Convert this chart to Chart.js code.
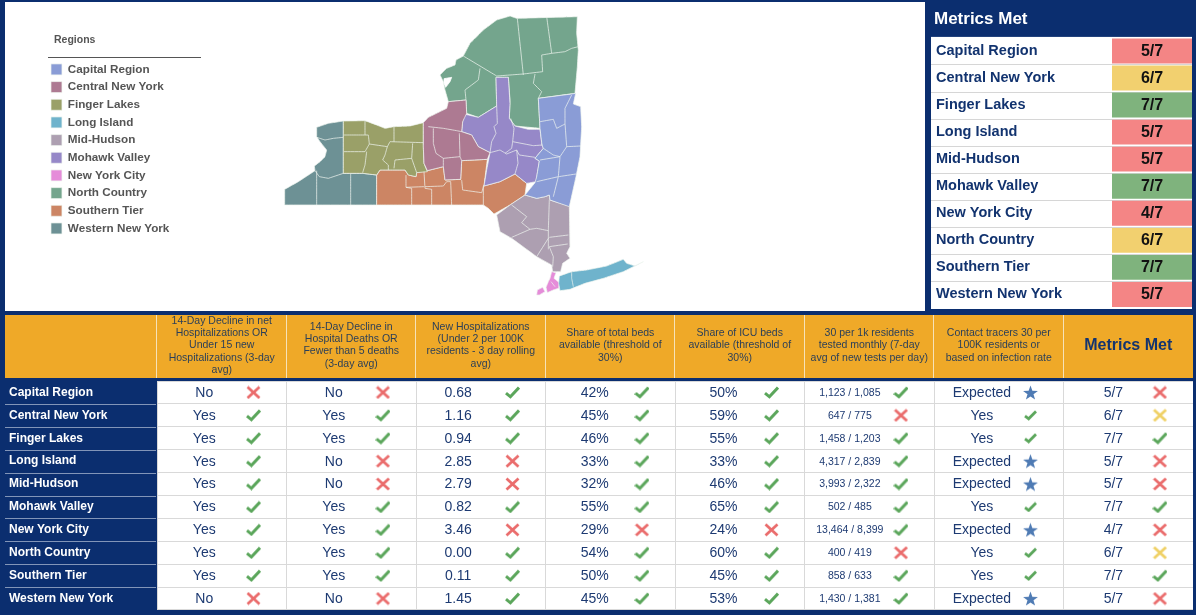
<!DOCTYPE html>
<html><head><meta charset="utf-8">
<script src="https://cdn.jsdelivr.net/npm/chart.js@4/dist/chart.umd.min.js"></script>
<style>
html,body{margin:0;padding:0;background:#fff;overflow:hidden}
#frame{position:absolute;left:0;top:0;width:1196px;height:615px;background:#0b2e6f}
#mapPanel{position:absolute;left:5px;top:2px;width:920px;height:309px;background:#fff}
canvas{position:absolute}
#mapChart{left:45px;top:2px}
#metChart{left:927px;top:3px}
#tableChart{left:5px;top:312px}
</style></head><body>
<div id="frame"></div><div id="mapPanel"></div>
<canvas id="mapChart" width="880" height="309"></canvas>
<canvas id="metChart" width="269" height="306"></canvas>
<canvas id="tableChart" width="1188" height="298"></canvas>
<script>
const FONT='"Liberation Sans", Arial, sans-serif';
const regions=['Capital Region','Central New York','Finger Lakes','Long Island','Mid-Hudson','Mohawk Valley','New York City','North Country','Southern Tier','Western New York'];
const regionColors=['#8a9cd6','#ad7a92','#9aa068','#6fb3cc','#ad9fb1','#9688c8','#e58cd9','#74a58d','#cc8564','#6d9195'];
const metricsMet=[5,6,7,5,5,7,4,6,7,5];
const headers=[
 ['14-Day Decline in net','Hospitalizations OR','Under 15 new','Hospitalizations (3-day','avg)'],
 ['14-Day Decline in','Hospital Deaths OR','Fewer than 5 deaths','(3-day avg)'],
 ['New Hospitalizations','(Under 2 per 100K','residents - 3 day rolling','avg)'],
 ['Share of total beds','available (threshold of','30%)'],
 ['Share of ICU beds','available (threshold of','30%)'],
 ['30 per 1k residents','tested monthly (7-day','avg of new tests per day)'],
 ['Contact tracers 30 per','100K residents or','based on infection rate'],
 'Metrics Met'];
const declineHosp=['No','Yes','Yes','Yes','Yes','Yes','Yes','Yes','Yes','No'];
const declineDeaths=['No','Yes','Yes','No','No','Yes','Yes','Yes','Yes','No'];
const newHosp=['0.68','1.16','0.94','2.85','2.79','0.82','3.46','0.00','0.11','1.45'];
const totalBeds=['42%','45%','46%','33%','32%','55%','29%','54%','50%','45%'];
const icuBeds=['50%','59%','55%','33%','46%','65%','24%','60%','45%','53%'];
const tests=['1,123 / 1,085','647 / 775','1,458 / 1,203','4,317 / 2,839','3,993 / 2,322','502 / 485','13,464 / 8,399','400 / 419','858 / 633','1,430 / 1,381'];
const tracers=['Expected','Yes','Yes','Expected','Expected','Yes','Expected','Yes','Yes','Expected'];
const markDecline=['no','ok','ok','ok','ok','ok','ok','ok','ok','no'];
const markDeaths=['no','ok','ok','no','no','ok','ok','ok','ok','no'];
const markNewHosp=['ok','ok','ok','no','no','ok','no','ok','ok','ok'];
const markBeds=['ok','ok','ok','ok','ok','ok','no','ok','ok','ok'];
const markIcu=['ok','ok','ok','ok','ok','ok','no','ok','ok','ok'];
const markTests=['ok','no','ok','ok','ok','ok','ok','no','ok','ok'];
const markTracers=['star','small','small','star','star','small','star','small','small','star'];
const markMet=['no','warn','ok','no','no','ok','no','warn','ok','no'];
const textShift=[-0.135,-0.135,-0.175,-0.12,-0.125,-0.15,-0.13,-0.115];

// map outlines, in map units
const capitalShape=[[805,295],[905,282],[917,280],[910,312],[932,320],[935,380],[930,470],[918,530],[898,620],[840,600],[838,585],[825,590],[800,595],[765,585],[795,548],[800,530],[808,483],[795,475],[820,445],[816,435],[810,385],[805,295]];
const centralShape=[[460,368],[475,352],[530,325],[535,305],[588,300],[590,340],[578,365],[575,395],[605,405],[625,440],[660,458],[652,478],[575,482],[572,538],[525,540],[520,500],[472,512],[462,490],[460,440],[460,368]];
const fingerShape=[[220,363],[285,362],[320,375],[345,385],[372,380],[420,378],[460,368],[460,440],[462,490],[472,515],[440,518],[438,530],[415,525],[405,510],[330,510],[320,525],[278,520],[220,520],[220,363]];
const longIslandShape=[[868,828],[905,815],[950,810],[1010,798],[1060,778],[1070,790],[1095,798],[1120,785],[1060,815],[1000,835],[945,850],[900,868],[870,872],[866,850],[868,828]];
const midHudsonShape=[[680,645],[720,615],[765,585],[800,595],[825,590],[838,585],[840,600],[898,618],[900,740],[890,760],[900,775],[878,790],[872,815],[848,815],[845,795],[800,770],[725,715],[690,695],[680,645]];
const mohawkShape=[[678,232],[715,232],[720,310],[718,355],[735,378],[775,388],[810,388],[816,435],[820,445],[795,475],[808,483],[798,545],[770,550],[735,522],[690,545],[642,558],[650,510],[660,458],[625,440],[605,405],[575,395],[578,365],[582,342],[625,352],[680,318],[678,232]];
const nycShapeA=[[800,885],[802,870],[818,862],[825,875],[808,885],[800,885]];
const nycShapeB=[[845,815],[858,818],[852,835],[868,848],[866,865],[850,870],[832,878],[828,862],[835,845],[840,835],[845,815]];
const northShape=[[510,225],[530,205],[555,195],[558,180],[580,168],[600,130],[640,90],[680,60],[720,48],[740,55],[922,50],[920,100],[925,150],[922,200],[915,280],[805,295],[810,385],[735,378],[718,355],[720,300],[715,232],[678,232],[680,318],[625,352],[590,340],[588,300],[535,305],[525,270],[520,245],[510,225]];
const southernShape=[[320,615],[320,525],[330,510],[405,510],[415,525],[438,530],[440,518],[472,512],[520,500],[525,540],[572,538],[575,482],[652,478],[642,558],[690,545],[735,522],[770,550],[765,585],[720,615],[672,642],[655,625],[640,615],[320,615]];
const westernShape=[[140,382],[175,370],[220,363],[220,520],[278,520],[320,525],[320,615],[44,615],[44,568],[85,545],[135,512],[133,498],[150,485],[165,470],[170,450],[150,425],[140,410],[140,382]];
const bayShape=[[522,236],[545,232],[540,245],[527,262],[522,250],[522,236]];
const regionShapes=[[capitalShape],[centralShape],[fingerShape],[longIslandShape],[midHudsonShape],[mohawkShape],[nycShapeA,nycShapeB],[northShape],[southernShape],[westernShape]];

// county borders, in map units
const countyLines=[
 [[140,412],[165,420],[190,415],[220,412]],[[135,512],[148,530],[175,535],[220,520]],[[140,512],[140,615]],[[242,522],[242,615]],
 [[222,405],[295,405]],[[285,362],[285,405]],[[295,405],[298,432],[285,455],[222,455]],[[290,455],[285,495],[278,518]],[[298,432],[352,440]],
 [[352,440],[345,465],[338,480],[355,495],[355,510]],[[372,380],[372,425]],[[352,440],[360,425],[460,428]],[[428,430],[425,475],[440,518]],[[372,505],[375,480],[425,475]],
 [[475,380],[520,385],[560,392],[575,395]],[[490,385],[490,430],[498,460],[520,475],[520,500]],[[520,475],[570,470],[575,482]],[[568,400],[570,470]],
 [[680,318],[682,370],[672,380],[678,400],[665,425],[660,458]],[[722,355],[732,385],[728,425],[725,445],[705,460]],[[660,458],[690,450],[710,462],[740,450],[748,465],[795,472]],[[728,425],[790,437],[818,435]],[[740,450],[744,490],[735,522]],
 [[742,55],[760,225]],[[830,50],[845,160]],[[845,160],[885,155],[905,145],[925,140]],[[815,165],[845,160]],[[815,165],[818,215]],[[580,168],[680,228],[760,222],[818,215]],[[630,205],[625,240],[585,270],[588,300]],[[795,222],[790,250],[815,275],[805,295]],
 [[905,285],[885,325],[885,370],[890,440],[870,470],[865,530],[850,590]],[[810,365],[850,358],[860,385],[885,372]],[[890,440],[932,438]],[[866,530],[918,522]],[[870,470],[810,480]],[[800,545],[865,530]],[[820,445],[850,465],[870,470]],
 [[408,525],[408,562],[425,565],[425,615]],[[408,562],[462,560]],[[462,515],[465,565],[485,568],[485,615]],[[465,560],[520,558],[530,545],[542,545],[545,615]],[[575,540],[578,570],[635,578],[642,555]],[[640,558],[640,615]],
 [[838,600],[835,690],[835,748]],[[838,712],[895,705]],[[838,740],[893,732]],[[725,615],[770,650],[755,668],[780,688],[725,712]],[[780,688],[800,685],[835,692]],[[835,715],[800,770]],
 [[905,815],[905,835],[910,860]],[[843,845],[855,860]],
 [[838,740],[850,770],[848,800]]
];

const toPts=a=>a.map(p=>({x:p[0],y:p[1]}));
const PALE='rgba(240,245,240,0.9)';
const lineSets=countyLines.map(l=>({data:toPts(l),showLine:true,borderColor:PALE,borderWidth:0.8,pointRadius:0,fill:false,tension:0.0001}));
lineSets.push({data:toPts(bayShape),showLine:true,borderColor:'#fff',borderWidth:0.8,pointRadius:0,backgroundColor:'#fff',fill:'shape',tension:0.0001});
const shapeSets=[];
regionShapes.forEach((shapes,i)=>shapes.forEach((s,j)=>shapeSets.push({
  label:j===0?regions[i]:'',data:toPts(s),showLine:true,borderColor:PALE,borderWidth:0.8,tension:0.0001,
  backgroundColor:regionColors[i],pointRadius:0,fill:'shape'})));

const legendRule={id:'legendRule',
 afterDraw(c){const x=c.ctx;x.save();x.strokeStyle='#555';x.lineWidth=1;x.beginPath();x.moveTo(3,55.5);x.lineTo(156,55.5);x.stroke();
  x.fillStyle='#555';x.font='bold 10.5px '+FONT;x.textAlign='left';x.textBaseline='middle';x.fillText('Regions',9,38.5);x.restore();}};
new Chart(document.getElementById('mapChart'),{type:'scatter',
 data:{datasets:[...lineSets,...shapeSets]},
 plugins:[legendRule],
 options:{responsive:false,animation:false,
  layout:{padding:0,autoPadding:false},
  scales:{x:{type:'linear',display:false,min:-675,max:1965},y:{type:'linear',display:false,reverse:true,min:6,max:933}},
  plugins:{tooltip:{enabled:false},
   legend:{position:'chartArea',align:'start',
    title:{display:true,text:' ',color:'#555',position:'start',font:{family:FONT,size:10.5,weight:'bold'},padding:{top:34,bottom:9},align:'start'},
    labels:{boxWidth:11,boxHeight:11,padding:5.97,color:'#555',font:{family:FONT,size:11.7,weight:'bold'},filter:i=>!!i.text}}}}});

// top-right panel
const CELL={no:'#f48585',warn:'#f2d06f',ok:'#7fb37d'};
const cellColors=metricsMet.map(v=>v===7?CELL.ok:v===6?CELL.warn:CELL.no);
const metPanel={id:'metPanel',
 afterLayout(c){c.titleBlock.left=7;},
 beforeDraw(c){const x=c.ctx,a=c.chartArea,ys=c.scales.y;x.save();x.fillStyle='#fff';x.fillRect(4,a.top-0.5,a.right-4,a.bottom-a.top+1.5);
  x.strokeStyle='#d6d6d6';x.lineWidth=1;
  regions.forEach((r,i)=>{if(!i)return;const y=Math.round(ys.getPixelForValue(i-0.5))+.5;x.beginPath();x.moveTo(4,y);x.lineTo(a.right,y);x.stroke();});x.restore();},
 afterDatasetsDraw(c){const x=c.ctx,a=c.chartArea,ys=c.scales.y;x.save();x.fillStyle='#111';x.font='bold 16px '+FONT;x.textAlign='center';x.textBaseline='middle';
  metricsMet.forEach((v,i)=>x.fillText(v+'/7',(a.left+a.right)/2,ys.getPixelForValue(i)+.5));x.restore();}};
new Chart(document.getElementById('metChart'),{type:'bar',
 data:{labels:regions,datasets:[{data:metricsMet,backgroundColor:cellColors,barPercentage:0.92,categoryPercentage:1,borderWidth:0}]},
 plugins:[metPanel],
 options:{responsive:false,animation:false,indexAxis:'y',
  layout:{padding:{left:9,right:4,bottom:1},autoPadding:false},
  scales:{x:{display:false,min:0,max:1},
   y:{afterFit(s){s.width=176;s.paddingTop=0;s.paddingBottom=0;},border:{display:false},grid:{display:false},
      ticks:{crossAlign:'far',color:'#12336f',font:{family:FONT,size:14.5,weight:'bold'},padding:0}}},
  plugins:{legend:{display:false},tooltip:{enabled:false},
   title:{display:true,text:'Metrics Met',align:'start',color:'#fff',font:{family:FONT,size:17,weight:'bold'},padding:{top:6,bottom:8}}}}});

// bottom table
function icon(w,h,draw){const c=document.createElement('canvas');c.width=w;c.height=h;const x=c.getContext('2d');x.lineCap='butt';x.lineJoin='miter';draw(x,w,h);return c;}
function check(col,lw){return (x,w,h)=>{x.strokeStyle=col;x.lineWidth=lw;x.beginPath();x.moveTo(1,h*.55);x.lineTo(w*.36,h-2.2);x.lineTo(w-1,1.5);x.stroke();};}
function cross(col){return (x,w,h)=>{x.strokeStyle=col;x.lineWidth=2.8;x.beginPath();x.moveTo(1.5,1.5);x.lineTo(w-1.5,h-1.5);x.moveTo(w-1.5,1.5);x.lineTo(1.5,h-1.5);x.stroke();};}
function star(col){return (x,w,h)=>{x.fillStyle=col;x.beginPath();for(let i=0;i<10;i++){const r=i%2?w*.21:w*.52,t=-Math.PI/2+i*Math.PI/5;x[i?'lineTo':'moveTo'](w/2+r*Math.cos(t),h/2+.8+r*Math.sin(t));}x.closePath();x.fill();};}
const icons={ok:icon(15,13,check('#5ba65b',3)),small:icon(13,11,check('#5ba65b',2.8)),no:icon(15,14,cross('#ea6c6c')),warn:icon(15,14,cross('#efd064')),star:icon(15,15,star('#4f7bb4'))};
const metText=metricsMet.map(v=>v+'/7');
const cellText=[declineHosp,declineDeaths,newHosp,totalBeds,icuBeds,tests,tracers,metText];
const cellMarks=[markDecline,markDeaths,markNewHosp,markBeds,markIcu,markTests,markTracers,markMet];
const markSets=Object.keys(icons).map(k=>{const d=[];cellMarks.forEach((m,c)=>m.forEach((s,r)=>{if(s===k)d.push({x:c+0.245,y:r});}));
  return {data:d,parsing:false,pointStyle:icons[k],pointRadius:8,showLine:false};});
const tablePaint={id:'tablePaint',
 beforeDraw(c){const x=c.ctx,a=c.chartArea,xs=c.scales.x,ys=c.scales.y;x.save();
  x.fillStyle='#efa928';x.fillRect(0,3,c.width,63);
  x.fillStyle='#fff';x.fillRect(a.left,a.top,a.right-a.left,a.bottom-a.top);
  x.fillStyle='#0b2e6f';x.fillRect(0,a.top,a.left-1,a.bottom-a.top);
  x.strokeStyle='#f6e2b8';x.lineWidth=1;
  headers.forEach((h,i)=>{const px=Math.round(xs.getPixelForValue(i-0.5))-.5;x.beginPath();x.moveTo(px,3);x.lineTo(px,66);x.stroke();});
  x.strokeStyle='#8295b8';
  regions.forEach((r,i)=>{if(!i)return;const y=Math.round(ys.getPixelForValue(i-0.5))+.5;x.beginPath();x.moveTo(0,y);x.lineTo(a.left-1,y);x.stroke();});
  x.restore();},
 afterDatasetsDraw(c){const x=c.ctx,xs=c.scales.x,ys=c.scales.y;x.save();x.fillStyle='#1d3a72';x.textAlign='center';x.textBaseline='middle';
  cellText.forEach((col,ci)=>{x.font=(ci===5?'10.5px ':'14px ')+FONT;col.forEach((t,ri)=>x.fillText(t,xs.getPixelForValue(ci+textShift[ci]),ys.getPixelForValue(ri)+.5));});
  x.restore();}};
new Chart(document.getElementById('tableChart'),{type:'scatter',
 data:{datasets:markSets},
 plugins:[tablePaint],
 options:{responsive:false,animation:false,parsing:false,
  layout:{padding:{left:4,right:0,top:0,bottom:0},autoPadding:false},
  scales:{
   x:{type:'category',labels:headers,position:'top',offset:true,afterFit(s){s.height=69;},
      border:{display:false},grid:{color:'#d9d9d9',offset:true,drawTicks:false},
      ticks:{autoSkip:false,maxRotation:0,minRotation:0,crossAlign:'center',padding:11,
        color:c=>c.index===7?'#14346f':'#2b3f58',
        font:c=>c.index===7?{family:FONT,size:16,weight:'bold',lineHeight:0.85}:{family:FONT,size:10.5,lineHeight:1.17}}},
   y:{type:'category',labels:regions,offset:true,afterFit(s){s.width=148;s.paddingTop=0;s.paddingBottom=0;},
      border:{display:false},grid:{color:'#d9d9d9',offset:true,drawTicks:false},
      ticks:{crossAlign:'far',padding:0,color:'#fff',font:{family:FONT,size:12,weight:'bold'}}}},
  plugins:{legend:{display:false},tooltip:{enabled:false}}}});
</script></body></html>
